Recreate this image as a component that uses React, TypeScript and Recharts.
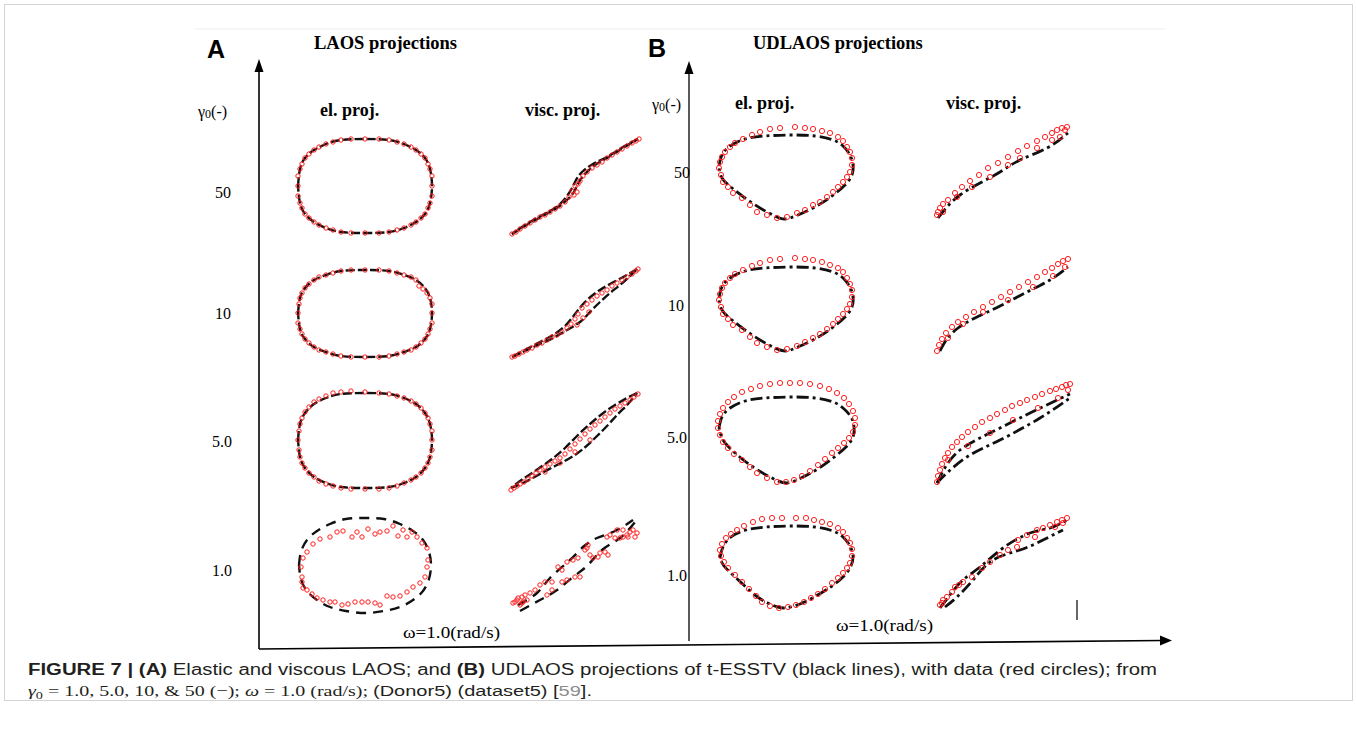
import React from 'react';
import { ComposedChart, Line, Scatter, XAxis, YAxis } from 'recharts';

type P = [number, number];

// ---------- Panel A : LAOS projections (elastic) ----------
const aEl50Model: P[] = [[8,56],[10,73],[15,84],[24,92],[36,98],[51,102],[75,103],[99,102],[114,98],[126,92],[135,84],[140,73],[142,56],[140,39],[135,28],[126,20],[114,14],[99,10],[75,9],[51,10],[36,14],[24,20],[15,28],[10,39],[8,56]];
const aEl50Data: P[] = [[142,56],[142,66],[140,73],[138,78],[135,84],[131,88],[126,92],[121,95],[114,98],[107,100],[99,102],[89,103],[75,103],[61,103],[51,102],[43,100],[36,98],[29,95],[24,92],[19,88],[15,84],[12,78],[10,73],[8,66],[8,56],[8,46],[10,39],[12,34],[15,28],[19,24],[24,20],[29,17],[36,14],[43,12],[51,10],[61,9],[75,9],[89,9],[99,10],[107,12],[114,14],[121,17],[126,20],[131,24],[135,28],[138,34],[140,39],[142,46]];

const aEl10Model: P[] = [[8,57],[10,72],[15,82],[24,90],[36,95],[51,99],[75,100],[99,99],[114,95],[126,90],[135,82],[140,72],[142,57],[140,41],[135,31],[126,23],[114,18],[99,14],[75,13],[51,14],[36,18],[24,23],[15,31],[10,41],[8,57]];
const aEl10Data: P[] = [[142,57],[142,66],[140,72],[137,77],[133,81],[129,84],[126,90],[121,93],[114,95],[107,97],[99,99],[89,100],[75,100],[61,100],[51,99],[43,97],[36,95],[29,93],[24,90],[19,86],[15,82],[12,77],[10,72],[9,66],[8,57],[8,47],[10,41],[12,36],[15,31],[19,27],[24,23],[29,20],[36,18],[43,16],[51,14],[61,13],[75,13],[89,13],[99,14],[107,16],[114,18],[121,20],[126,23],[131,27],[135,31],[138,36],[140,41],[142,47]];

const aEl5Model: P[] = [[8,56],[10,72],[15,83],[24,92],[36,98],[51,102],[75,103],[99,102],[114,98],[126,92],[135,83],[140,72],[142,56],[140,39],[135,28],[126,19],[114,13],[99,9],[75,8],[51,9],[36,13],[24,19],[15,28],[10,39],[8,56]];
const aEl5Data: P[] = [[142,56],[142,65],[140,72],[138,78],[135,83],[131,88],[126,92],[121,95],[114,98],[107,100],[99,102],[89,103],[75,104],[61,105],[51,104],[43,103],[36,100],[29,97],[24,94],[19,89],[15,84],[12,78],[10,72],[9,65],[8,56],[9,46],[10,39],[12,33],[15,28],[19,23],[24,19],[29,15],[36,12],[43,10],[51,8],[61,7],[75,7],[89,7],[99,8],[107,10],[114,13],[121,16],[126,19],[131,23],[135,28],[138,33],[140,39],[142,46]];

const aEl1Model: P[] = [[9,57],[11,70],[17,82],[27,91],[40,98],[56,103],[75,104],[94,103],[110,98],[123,91],[133,82],[139,70],[141,57],[139,43],[133,31],[123,22],[110,15],[94,11],[75,9],[56,11],[40,15],[27,22],[17,31],[11,43],[9,57]];
const aEl1Data: P[] = [[12,45],[11,55],[13,64],[17,70],[23,78],[30,83],[40,85],[47,90],[53,91],[62,85],[67,90],[72,85],[78,93],[85,88],[90,90],[97,91],[103,96],[108,86],[113,92],[117,85],[122,90],[127,85],[132,79],[137,74],[138,62],[137,55],[135,45],[130,39],[123,35],[117,30],[110,26],[103,25],[97,26],[90,17],[85,19],[78,20],[72,20],[65,20],[58,18],[52,17],[45,20],[40,20],[33,22],[27,24],[22,28],[17,32],[13,34],[12,40]];

// ---------- Panel A : LAOS projections (viscous) ----------
const aVi50Up: P[] = [[7,8],[25,19],[45,30],[56,37],[65,45],[70,52],[74,60],[80,68],[90,77],[102,84],[118,94],[133,103]];
const aVi50Down: P[] = [[133,103],[118,95],[102,85],[88,78],[77,70],[71,62],[67,54],[62,46],[55,38],[45,31],[25,20],[7,8]];
const aVi50Data: P[] = [[7,8],[11,10],[15,13],[20,16],[25,19],[30,22],[35,25],[40,27],[45,30],[50,33],[55,36],[60,40],[64,45],[67,51],[70,56],[72,50],[75,61],[78,66],[82,70],[87,74],[92,77],[97,80],[102,84],[107,87],[112,90],[117,93],[122,96],[127,99],[131,101],[134,103],[69,47],[73,58]];

const aVi10Up: P[] = [[7,13],[20,19],[35,26],[50,33],[62,40],[75,48],[85,58],[95,68],[105,77],[115,85],[125,94],[132,101]];
const aVi10Down: P[] = [[132,101],[120,94],[105,86],[92,78],[80,68],[70,56],[60,44],[48,35],[35,28],[20,20],[7,13]];
const aVi10Data: P[] = [[7,13],[10,14],[14,16],[18,18],[22,20],[27,22],[32,25],[37,27],[42,30],[47,33],[52,35],[57,38],[62,42],[66,46],[70,51],[73,56],[77,62],[82,66],[87,70],[92,74],[97,77],[102,80],[107,84],[112,87],[117,90],[122,93],[127,96],[131,99],[133,101],[72,45],[78,52],[84,58]];

const aVi5Up: P[] = [[6,8],[20,14],[35,22],[50,30],[65,38],[78,47],[90,58],[102,70],[113,82],[123,92],[132,103]];
const aVi5Down: P[] = [[132,103],[122,98],[110,91],[97,82],[85,72],[73,61],[60,48],[47,37],[33,27],[18,17],[6,8]];
const aVi5Data: P[] = [[6,6],[9,8],[12,10],[15,12],[19,14],[23,17],[27,20],[31,23],[35,26],[40,29],[45,32],[50,35],[55,38],[60,42],[65,47],[70,52],[75,57],[80,62],[85,67],[90,71],[95,75],[100,79],[105,83],[110,87],[115,90],[120,93],[125,96],[129,99],[133,102],[40,24],[55,33],[70,44],[85,56]];

const aVi1Up: P[] = [[13,17],[32,29],[45,44],[65,62],[78,75],[92,84],[110,91],[128,102]];
const aVi1Down: P[] = [[15,11],[35,22],[52,32],[68,45],[83,57],[97,72],[115,84],[130,100]];
const aVi1Data: P[] = [[10,20],[13,24],[17,25],[18,20],[15,17],[22,22],[25,29],[30,32],[35,37],[40,40],[47,40],[53,55],[57,52],[62,60],[68,62],[73,64],[75,45],[70,45],[62,42],[57,40],[47,32],[42,27],[82,74],[83,77],[80,72],[85,67],[95,69],[100,70],[103,67],[88,64],[93,65],[102,85],[105,87],[110,84],[115,84],[118,85],[122,87],[125,90],[128,92],[132,89],[130,85],[123,85],[118,92],[112,92],[8,19],[12,22],[20,27],[17,19]];

// ---------- Panel B : UDLAOS projections (elastic) ----------
const bEl50Model: P[] = [[7,64],[10,75],[18,84],[33,91],[53,94],[78,95],[103,94],[121,90],[131,84],[138,75],[141,65],[140,55],[133,45],[120,34],[103,23],[86,15],[73,11],[63,14],[48,22],[33,32],[20,42],[10,52],[7,64]];
const bEl50Data: P[] = [[126,93],[131,89],[135,83],[138,78],[140,72],[140,65],[138,58],[135,53],[131,48],[126,43],[121,38],[115,33],[108,28],[101,25],[93,20],[85,17],[75,13],[65,12],[55,15],[45,18],[38,25],[30,32],[21,37],[16,43],[11,48],[9,55],[7,62],[8,68],[10,73],[13,78],[18,83],[23,87],[31,91],[40,95],[48,98],[58,101],[68,102],[83,103],[93,102],[101,101],[110,99],[118,97]];

const bEl10Model: P[] = [[7,62],[10,73],[18,82],[33,89],[53,92],[78,93],[103,92],[121,88],[131,82],[138,73],[141,63],[140,53],[133,43],[120,32],[103,21],[86,13],[74,9],[63,12],[48,20],[33,30],[20,40],[10,50],[7,62]];
const bEl10Data: P[] = [[126,92],[131,88],[135,82],[138,76],[140,70],[140,63],[138,56],[135,51],[131,46],[126,41],[121,36],[115,31],[108,26],[101,22],[93,18],[85,14],[75,11],[65,10],[55,13],[45,17],[38,23],[30,30],[21,35],[16,41],[11,46],[9,53],[7,60],[8,66],[10,72],[13,77],[18,82],[23,86],[31,90],[40,94],[48,97],[58,100],[68,101],[83,102],[93,101],[101,100],[110,98],[118,95]];

const bEl5Model: P[] = [[7,60],[10,71],[18,80],[33,87],[53,90],[78,91],[103,90],[121,86],[131,80],[139,71],[142,61],[141,51],[134,41],[121,30],[104,18],[87,9],[75,5],[64,8],[49,16],[34,26],[21,37],[11,48],[7,60]];
const bEl5Data: P[] = [[65,6],[55,10],[45,15],[38,21],[30,28],[22,34],[16,40],[11,46],[8,53],[6,60],[6,67],[8,74],[11,80],[16,86],[22,91],[30,96],[39,99],[48,102],[58,104],[68,105],[78,105],[88,105],[98,104],[108,102],[117,99],[125,95],[132,90],[137,84],[141,77],[143,70],[143,63],[141,56],[137,50],[132,45],[126,40],[120,35],[113,29],[106,23],[98,17],[90,12],[82,8],[74,6]];

const bEl1Model: P[] = [[8,62],[11,73],[19,83],[34,90],[54,93],[78,94],[103,93],[121,89],[131,83],[138,74],[141,64],[139,54],[132,44],[120,34],[104,24],[88,16],[72,12],[60,15],[47,22],[35,32],[22,44],[12,54],[8,62]];
const bEl1Data: P[] = [[126,92],[131,88],[135,82],[138,77],[140,71],[140,64],[138,57],[135,52],[131,47],[126,42],[120,37],[113,31],[106,26],[99,22],[92,18],[84,15],[76,13],[67,12],[58,14],[50,18],[44,24],[37,31],[30,38],[23,45],[16,52],[12,58],[9,64],[8,70],[10,76],[14,82],[19,86],[25,90],[32,94],[41,98],[50,101],[60,102],[70,102],[84,102],[94,102],[102,100],[110,98],[118,96]];

// ---------- Panel B : UDLAOS projections (viscous) ----------
const bVi50Model: P[] = [[10,12],[19,23],[32,35],[52,47],[72,58],[92,70],[119,82],[140,97]];
const bVi50Data: P[] = [[9,15],[10,18],[12,22],[15,26],[20,30],[27,37],[34,43],[42,49],[51,55],[60,62],[70,67],[80,73],[90,79],[99,84],[109,89],[117,93],[124,97],[129,100],[134,102],[139,103],[15,18],[29,33],[44,43],[62,53],[80,65],[92,72],[109,82],[124,90],[132,93],[137,100]];

const bVi10Model: P[] = [[12,9],[19,21],[30,32],[47,42],[72,54],[97,67],[122,80],[140,93]];
const bVi10Data: P[] = [[9,9],[11,15],[14,21],[18,27],[24,33],[30,38],[38,43],[46,48],[55,53],[64,58],[73,63],[82,68],[91,73],[100,78],[109,83],[117,88],[124,92],[130,96],[135,99],[140,101],[20,22],[35,36],[55,48],[80,60],[105,73],[125,84],[137,93]];

const bVi5Up: P[] = [[9,5],[18,22],[32,38],[52,50],[72,60],[102,75],[142,94]];
const bVi5Down: P[] = [[9,5],[20,16],[42,33],[72,48],[112,70],[142,90]];
const bVi5Data: P[] = [[9,6],[10,12],[12,18],[14,24],[17,30],[20,35],[24,41],[29,46],[34,51],[40,56],[47,61],[54,66],[62,70],[69,74],[77,78],[84,82],[92,85],[99,88],[107,91],[114,94],[122,97],[128,99],[134,101],[138,103],[142,104],[20,28],[40,42],[62,55],[85,68],[110,80],[130,90],[140,98]];

const bVi1Up: P[] = [[12,12],[22,25],[35,40],[52,53],[75,72],[102,87],[122,92],[139,100]];
const bVi1Down: P[] = [[17,13],[29,23],[45,40],[65,60],[92,70],[115,80],[135,90]];
const bVi1Data: P[] = [[12,15],[15,20],[19,23],[24,28],[27,33],[35,38],[44,43],[54,52],[62,58],[72,65],[80,70],[89,73],[90,80],[99,85],[107,83],[109,90],[115,92],[122,95],[129,98],[134,100],[139,102],[135,97],[127,93],[14,17],[31,35]];

// ---------- labels ----------
const rowLabels = ['50', '10', '5.0', '1.0'];
const captionLine1Bold = 'FIGURE 7 | ';
const captionLine1 = 'Elastic and viscous LAOS; and ';
const captionLine1b = 'UDLAOS projections of t-ESSTV (black lines), with data (red circles); from';

const SERIF = "'Liberation Serif', 'Times New Roman', serif";
const SANS = "'Liberation Sans', Arial, sans-serif";

const toXY = (a: P[]) => a.map(([x, y]) => ({ x, y }));

type SubProps = {
  left: number; top: number; models: P[][]; data: P[];
  dash: string; sw: number; r: number;
};

function Sub({ left, top, models, data, dash, sw, r }: SubProps) {
  return (
    <div style={{ position: 'absolute', left, top, width: 150, height: 110 }}>
      <ComposedChart width={150} height={110} margin={{ top: 0, right: 0, bottom: 0, left: 0 }}>
        <XAxis type="number" dataKey="x" domain={[0, 150]} hide allowDataOverflow />
        <YAxis type="number" dataKey="y" domain={[0, 110]} hide allowDataOverflow />
        {models.map((m, i) => (
          <Line key={i} data={toXY(m)} dataKey="y" type="natural" stroke="#111" strokeWidth={sw}
            strokeDasharray={dash} dot={false} activeDot={false} isAnimationActive={false} />
        ))}
        <Scatter data={toXY(data)} dataKey="y" isAnimationActive={false}
          shape={(p: any) => <circle cx={p.cx} cy={p.cy} r={r} fill="none" stroke="#ff1f1f" strokeWidth={1} />} />
      </ComposedChart>
    </div>
  );
}

const LA = '9 3';
const LA1 = '10 7';
const UD = '12 4 3 4';

export default function App() {
  const aTops = [132, 260, 386, 512];
  const bTops = [120, 250, 378, 510];
  const aEl = [[aEl50Model, aEl50Data], [aEl10Model, aEl10Data], [aEl5Model, aEl5Data], [aEl1Model, aEl1Data]] as [P[], P[]][];
  const aVi = [[[aVi50Up, aVi50Down], aVi50Data], [[aVi10Up, aVi10Down], aVi10Data], [[aVi5Up, aVi5Down], aVi5Data], [[aVi1Up, aVi1Down], aVi1Data]] as [P[][], P[]][];
  const bEl = [[bEl50Model, bEl50Data], [bEl10Model, bEl10Data], [bEl5Model, bEl5Data], [bEl1Model, bEl1Data]] as [P[], P[]][];
  const bVi = [[[bVi50Model], bVi50Data], [[bVi10Model], bVi10Data], [[bVi5Up, bVi5Down], bVi5Data], [[bVi1Up, bVi1Down], bVi1Data]] as [P[][], P[]][];
  const aRowY = [198, 319, 447, 576];
  const aRowX = [215, 215, 212, 212];
  const bRowY = [178, 311, 443, 581];
  const bRowX = [674, 668, 667, 667];

  return (
    <div style={{ position: 'absolute', left: 0, top: 0, width: 1357, height: 734, background: '#fff' }}>
      <svg width={1357} height={734} style={{ position: 'absolute', left: 0, top: 0 }}>
        <rect x={4.5} y={4.5} width={1348} height={696} fill="none" stroke="#d4d4d4" strokeWidth={1} />
        <line x1={195} y1={29} x2={1165} y2={29} stroke="#eeeeee" strokeWidth={1} />
        {/* axes */}
        <line x1={259} y1={649} x2={259} y2={70} stroke="#000" strokeWidth={1.6} />
        <polygon points="259,59 254.5,72 263.5,72" fill="#000" />
        <line x1={689} y1={641} x2={689} y2={72} stroke="#000" strokeWidth={1.3} />
        <polygon points="689,61 684.5,74 693.5,74" fill="#000" />
        <line x1={259} y1={649} x2={1162} y2={640.5} stroke="#000" strokeWidth={1.6} />
        <polygon points="1172,640.4 1160,635.5 1160,645.5" fill="#000" />
        <line x1={1077} y1={600} x2={1077} y2={620} stroke="#000" strokeWidth={1.2} />

        {/* panel A texts */}
        <text x={207} y={58} fontFamily={SANS} fontWeight="bold" fontSize={25}>A</text>
        <text x={314} y={49} fontFamily={SERIF} fontWeight="bold" fontSize={18.5}>LAOS projections</text>
        <text x={198} y={117} fontFamily={SERIF} fontSize={16}>γ<tspan fontSize={12} dy={1}>0</tspan><tspan dy={-1}>(-)</tspan></text>
        <text x={320} y={116} fontFamily={SERIF} fontWeight="bold" fontSize={18}>el. proj.</text>
        <text x={525} y={116} fontFamily={SERIF} fontWeight="bold" fontSize={18}>visc. proj.</text>
        {rowLabels.map((l, i) => (
          <text key={'a' + l} x={aRowX[i]} y={aRowY[i]} fontFamily={SERIF} fontSize={16}>{l}</text>
        ))}
        <text x={403} y={638} fontFamily={SERIF} fontSize={17} textLength={97} lengthAdjust="spacingAndGlyphs">ω=1.0(rad/s)</text>

        {/* panel B texts */}
        <text x={648} y={57} fontFamily={SANS} fontWeight="bold" fontSize={25}>B</text>
        <text x={753} y={49} fontFamily={SERIF} fontWeight="bold" fontSize={18.5}>UDLAOS projections</text>
        <text x={652} y={110} fontFamily={SERIF} fontSize={16}>γ<tspan fontSize={12} dy={1}>0</tspan><tspan dy={-1}>(-)</tspan></text>
        <text x={735} y={109} fontFamily={SERIF} fontWeight="bold" fontSize={18}>el. proj.</text>
        <text x={946} y={109} fontFamily={SERIF} fontWeight="bold" fontSize={18}>visc. proj.</text>
        {rowLabels.map((l, i) => (
          <text key={'b' + l} x={bRowX[i]} y={bRowY[i]} fontFamily={SERIF} fontSize={16}>{l}</text>
        ))}
        <text x={836} y={631} fontFamily={SERIF} fontSize={17} textLength={97} lengthAdjust="spacingAndGlyphs">ω=1.0(rad/s)</text>

        {/* caption */}
        <text x={28} y={675} fontFamily={SANS} fontSize={16} fill="#231f20" textLength={1129} lengthAdjust="spacingAndGlyphs">
          <tspan fontWeight="bold">{captionLine1Bold}(A)</tspan> {captionLine1}<tspan fontWeight="bold">(B)</tspan> {captionLine1b}
        </text>
        <text x={28} y={696} fontSize={15.5} fill="#231f20" textLength={564} lengthAdjust="spacingAndGlyphs">
          <tspan fontFamily={SERIF} fontStyle="italic">γ</tspan>
          <tspan fontFamily={SERIF} fontSize={11} dy={3}>0</tspan>
          <tspan fontFamily={SERIF} dy={-3}> = 1.0, 5.0, 10, &amp; 50 (−); </tspan>
          <tspan fontFamily={SERIF} fontStyle="italic">ω</tspan>
          <tspan fontFamily={SERIF}> = 1.0 (rad/s); </tspan>
          <tspan fontFamily={SANS}>(Donor5) (dataset5) [</tspan>
          <tspan fontFamily={SANS} fill="#8c8c8c">59</tspan>
          <tspan fontFamily={SANS}>].</tspan>
        </text>
      </svg>

      {aEl.map(([m, d], i) => (
        <Sub key={'ae' + i} left={290} top={aTops[i]} models={[m]} data={d} dash={i === 3 ? LA1 : LA} sw={2.4} r={2.2} />
      ))}
      {aVi.map(([m, d], i) => (
        <Sub key={'av' + i} left={505} top={aTops[i]} models={m} data={d} dash={i === 3 ? LA1 : LA} sw={2.4} r={2.2} />
      ))}
      {bEl.map(([m, d], i) => (
        <Sub key={'be' + i} left={712} top={bTops[i]} models={[m]} data={d} dash={UD} sw={2.8} r={2.6} />
      ))}
      {bVi.map(([m, d], i) => (
        <Sub key={'bv' + i} left={928} top={bTops[i]} models={m} data={d} dash={UD} sw={2.8} r={2.6} />
      ))}
    </div>
  );
}
